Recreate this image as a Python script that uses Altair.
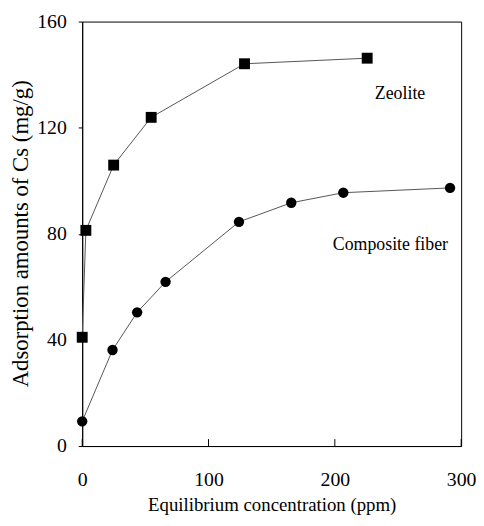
import altair as alt
import pandas as pd

# Data
zeolite_x = [0, 2.9, 24.9, 54.6, 128.5, 225.6]
zeolite_y = [41.0, 81.3, 105.9, 123.9, 144.1, 146.2]
fiber_x = [0, 24.0, 43.5, 66.0, 124.1, 165.5, 206.7, 291.2]
fiber_y = [9.3, 36.2, 50.4, 61.9, 84.5, 91.7, 95.5, 97.3]

x_ticks = [0, 100, 200, 300]
y_ticks = [0, 40, 80, 120, 160]

label_text = ["Zeolite", "Composite fiber"]
label_x = [251.6, 244.0]
label_y = [132.8, 75.8]

FONT = "Liberation Serif"
W, H = 383, 429

zeo = pd.DataFrame({"x": zeolite_x, "y": zeolite_y})
fib = pd.DataFrame({"x": fiber_x, "y": fiber_y})
labels = pd.DataFrame({"x": label_x, "y": label_y, "t": label_text})
xt = pd.DataFrame({"x": x_ticks})

xscale = alt.Scale(domain=[0, 300], nice=False)
yscale = alt.Scale(domain=[0, 160], nice=False)

xaxis = alt.Axis(
    values=x_ticks, title="Equilibrium concentration (ppm)", grid=False,
    tickSize=0, labelPadding=24, labelFontSize=20, titleFontSize=19,
    labelFont=FONT, titleFont=FONT, titleFontWeight="normal",
    domainColor="black", labelColor="black", titleColor="black", titlePadding=6,
    labelFlush=False,
)
yaxis = alt.Axis(
    values=y_ticks, title="Adsorption amounts of Cs (mg/g)", grid=False,
    tickSize=4, tickColor="black", labelPadding=12, labelFontSize=20, titleFontSize=23,
    labelFont=FONT, titleFont=FONT, titleFontWeight="normal",
    domainColor="black", labelColor="black", titleColor="black",
    titleX=-62, titleY=214, titleAlign="center", titleBaseline="middle", titleAngle=270,
    labelFlush=False,
)

base_x = alt.X("x:Q", scale=xscale, axis=xaxis)
base_y = alt.Y("y:Q", scale=yscale, axis=yaxis)

zeo_line = alt.Chart(zeo).mark_line(color="#555555", strokeWidth=1).encode(x=base_x, y=base_y)
zeo_pts = alt.Chart(zeo).mark_square(color="black", size=121, opacity=1).encode(x="x:Q", y="y:Q")
fib_line = alt.Chart(fib).mark_line(color="#555555", strokeWidth=1).encode(x="x:Q", y="y:Q")
fib_pts = alt.Chart(fib).mark_circle(color="black", size=110, opacity=1).encode(x="x:Q", y="y:Q")
txt = alt.Chart(labels).mark_text(font=FONT, fontSize=18, color="black", align="center", baseline="middle").encode(
    x="x:Q", y="y:Q", text="t:N")
ticks = alt.Chart(xt).mark_rule(color="black", strokeWidth=1).encode(
    x="x:Q", y=alt.value(H), y2=alt.value(H - 7))

chart = alt.layer(zeo_line, fib_line, ticks, zeo_pts, fib_pts, txt).properties(
    width=W, height=H,
    autosize=alt.AutoSizeParams(type="none"),
    padding={"left": 75, "top": 11, "right": 15, "bottom": 70},
    background="white",
).configure_view(stroke="black", strokeWidth=1)

chart.save("out.html", embed_options={"renderer": "svg", "actions": False})
